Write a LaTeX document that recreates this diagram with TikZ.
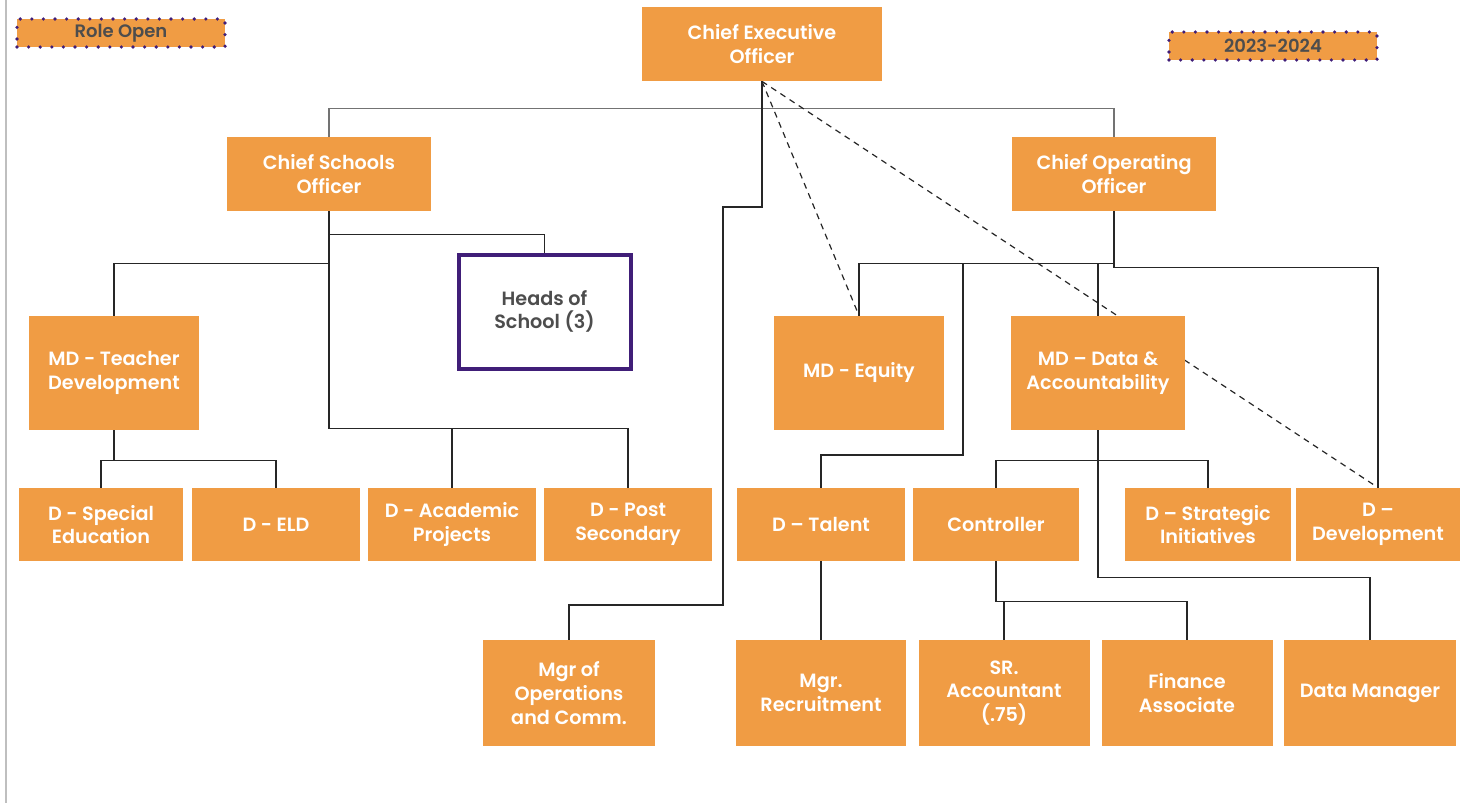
\documentclass[tikz,border=0pt]{standalone}
\usepackage{fontspec}
\setmainfont{Poppins}[BoldFont={Poppins SemiBold}]
\usetikzlibrary{backgrounds}
\definecolor{boxorange}{RGB}{240,156,68}
\definecolor{headpurple}{RGB}{64,30,120}
\definecolor{tagtext}{RGB}{77,77,77}
\begin{document}
\begin{tikzpicture}[x=0.5pt, y=-0.5pt,
  role/.style={fill=boxorange, text=white, font=\bfseries\fontsize{9.6}{11.8}\selectfont, align=center, inner sep=0pt},
  tag/.style={fill=boxorange, text=tagtext, font=\bfseries\fontsize{9}{10}\selectfont, draw=headpurple, line width=1.8pt, line cap=round, dash pattern=on 0pt off 5.8pt, minimum width=104pt, minimum height=14pt, inner sep=0pt},
  conn/.style={draw=black!85, line width=0.6pt},
  dotline/.style={draw=black!85, line width=0.6pt, dash pattern=on 3pt off 2.5pt}]
\useasboundingbox (0,0) rectangle (1460,803);
\draw[black!25, line width=0.8pt] (6,0) -- (6,803);

\node[tag] (open) at (121,33) {Role Open};
\node[tag] (year) at (1273,46) {2023-2024};

\node[role, minimum width=120pt, minimum height=37pt] (ceo) at (762,44) {Chief Executive\\Officer};
\node[role, minimum width=102pt, minimum height=37pt] (cso) at (329,174) {Chief Schools\\Officer};
\node[role, minimum width=102pt, minimum height=37pt] (coo) at (1114,174) {Chief Operating\\Officer};

\node[draw=headpurple, line width=2pt, fill=white, text=tagtext, font=\bfseries\fontsize{9.6}{11.8}\selectfont, align=center, minimum width=86pt, minimum height=57pt] (heads) at (544.5,311.5) {Heads of\\School (3)};
\node[role, minimum width=85pt, minimum height=57pt] (mdtd) at (114,373) {MD - Teacher\\Development};
\node[role, minimum width=85pt, minimum height=57pt] (mdeq) at (859,373) {MD - Equity};
\node[role, minimum width=87pt, minimum height=57pt] (mdda) at (1098,373) {MD -- Data \&\\Accountability};

\node[role, minimum width=82pt, minimum height=36.5pt] (spec) at (101,524.5) {D - Special\\Education};
\node[role, minimum width=84pt, minimum height=36.5pt] (eld) at (276,524.5) {D - ELD};
\node[role, minimum width=84pt, minimum height=36.5pt] (acad) at (452,524.5) {D - Academic\\Projects};
\node[role, minimum width=84pt, minimum height=36.5pt] (post) at (628,524.5) {D - Post\\Secondary};
\node[role, minimum width=84pt, minimum height=36.5pt] (talent) at (821,524.5) {D -- Talent};
\node[role, minimum width=83pt, minimum height=36.5pt] (ctrl) at (996,524.5) {Controller};
\node[role, minimum width=83pt, minimum height=36.5pt] (strat) at (1208,524.5) {D -- Strategic\\Initiatives};
\node[role, minimum width=82pt, minimum height=36.5pt] (dev) at (1378,524.5) {D --\\Development};

\node[role, minimum width=86pt, minimum height=53pt] (mgrops) at (569,693) {Mgr of\\Operations\\and Comm.};
\node[role, minimum width=85pt, minimum height=53pt] (recruit) at (821,693) {Mgr.\\Recruitment};
\node[role, minimum width=85.5pt, minimum height=53pt] (sracc) at (1004,693) {SR.\\Accountant\\(.75)};
\node[role, minimum width=85.5pt, minimum height=53pt] (fin) at (1187,693) {Finance\\Associate};
\node[role, minimum width=86pt, minimum height=53pt] (dataman) at (1370,693) {Data Manager};

\begin{pgfonlayer}{background}
\draw[draw=black!55, line width=0.7pt] (cso.north) -- ++(0,-28) -| (coo.north);
\draw[conn] (ceo.south) |- (723,207) -- (723,605) -| (mgrops.north);

\draw[conn] (cso.south) -- ++(0,23) -| (heads.north);
\draw[conn] (cso.south) -- ++(0,52) -| (mdtd.north);
\draw[conn] (cso.south) -- ++(0,217) -| (acad.north);
\draw[conn] (cso.south) -- ++(0,217) -| (post.north);
\draw[conn] (mdtd.south) -- ++(0,30) -| (spec.north);
\draw[conn] (mdtd.south) -- ++(0,30) -| (eld.north);

\draw[conn] (coo.south) -- ++(0,52) -| (mdeq.north);
\draw[conn] (coo.south) -- ++(0,52) -| (mdda.north);
\draw[conn] (coo.south) -- ++(0,52) -| (963,455) -| (talent.north);
\draw[conn] (coo.south) -- ++(0,56) -| (dev.north);
\draw[conn] (mdda.south) -- ++(0,30) -| (ctrl.north);
\draw[conn] (mdda.south) -- ++(0,30) -| (strat.north);
\draw[conn] (mdda.south) -- ++(0,147) -| (dataman.north);

\draw[conn] (talent.south) -- (recruit.north);
\draw[conn] (ctrl.south) -- ++(0,40) -| (sracc.north);
\draw[conn] (ctrl.south) -- ++(0,40) -| (fin.north);

\draw[dotline] (ceo.south) -- (mdeq.north);
\draw[dotline] (ceo.south) -- (dev.north);
\end{pgfonlayer}
\end{tikzpicture}
\end{document}
